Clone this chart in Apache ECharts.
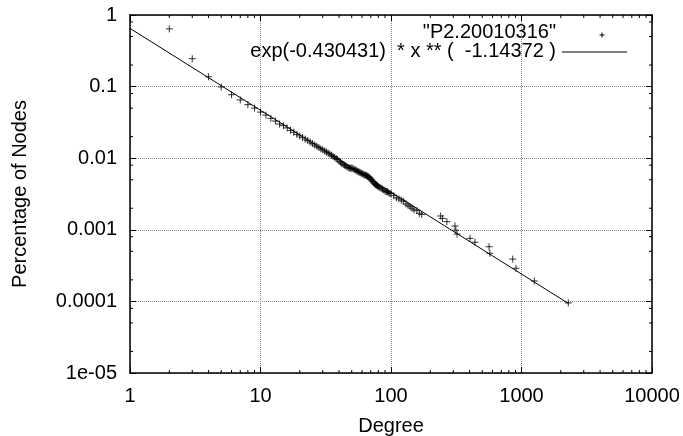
<!DOCTYPE html>
<html>
<head>
<meta charset="utf-8">
<script src="https://cdn.jsdelivr.net/npm/echarts@6/dist/echarts.min.js"></script>
<style>
html,body{margin:0;padding:0;background:#fff;}
#c{width:683px;height:436px;}
</style>
</head>
<body>
<div id="c"></div>
<script>
// ---- data ----
const degrees = [2,3,4,5,6,7,8,9,10,11,12,13,14,15,16,17,18,19,20,
  21,22,23,24,25,26,27,28,29,30,31,32,33,34,35,36,37,38,39,40,
  41,42,43,44,45,46,47,48,49,50,51,52,53,54,55,56,57,58,59,60,
  61,62,63,64,65,66,67,68,69,70,71,72,73,74,75,76,77,78,79,80,
  82,84,86,88,90,92,94,96,98,100,105,110,115,120,125,130,135,140,145,150,
  158,165,172,
  240,248,268,309,314,321,403,440,564,572,856,908,1254,2284];
const percentages = [0.64,0.245,0.137,0.099,0.077,0.065,0.056,0.050,0.044,0.040,0.036,0.033,0.030,0.0285,0.0265,0.0245,0.023,0.0215,0.0205,
  0.0195,0.0185,0.0176,0.0168,0.0160,0.0153,0.0147,0.0141,0.0135,0.0131,0.0126,0.0122,0.0118,0.0114,0.0110,0.0106,0.0103,0.0099,0.0096,0.0091,
  0.0088,0.0085,0.0082,0.0080,0.0078,0.0076,0.0074,0.0073,0.0072,0.0073,0.0072,0.0070,0.0069,0.0068,0.0066,0.0065,0.0064,0.0063,0.0062,0.0061,
  0.0060,0.0059,0.0058,0.0058,0.0057,0.0056,0.0055,0.0054,0.0053,0.0051,0.0050,0.0048,0.0047,0.0045,0.0044,0.0043,0.0042,0.0042,0.0041,0.0040,
  0.0039,0.0038,0.0037,0.0036,0.0035,0.0034,0.0034,0.0033,0.0032,0.0032,0.0030,0.0028,0.0027,0.0026,0.0025,0.0023,0.0022,0.0021,0.0020,0.0019,
  0.00185,0.0017,0.00164,
  0.00156,0.00144,0.0013,0.00113,0.00099,0.00087,0.00076,0.00067,0.00058,0.00047,0.00039,0.00029,0.000193,0.0000953];
// fitted line endpoints (as drawn)
const fitX = [1, 2284];
const fitY = [0.65, 0.0000937];

const seriesNames = ['"P2.20010316"', 'exp(-0.430431)  * x ** (  -1.14372 )'];

const xTickValues = [1, 10, 100, 1000, 10000];
const xTickLabels = ['1', '10', '100', '1000', '10000'];
const yTickValues = [0.00001, 0.0001, 0.001, 0.01, 0.1, 1];
const yTickLabels = ['1e-05', '0.0001', '0.001', '0.01', '0.1', '1'];
const xMinorTicks = [2,3,4,5,6,7,8,9,20,30,40,50,60,70,80,90,200,300,400,500,600,700,800,900,2000,3000,4000,5000,6000,7000,8000,9000];
const yMinorTicks = [0.00002,0.00005,0.00008,0.0002,0.0005,0.0008,0.002,0.005,0.008,0.02,0.05,0.08,0.2,0.5,0.8];

// ---- chart ----
const FONT = 'Liberation Sans, Arial, sans-serif';
const FS = 20;
function labelFor(values, labels){
  return function(v){
    for (let i = 0; i < values.length; i++) {
      if (Math.abs(Math.log10(v) - Math.log10(values[i])) < 1e-6) return labels[i];
    }
    return '';
  };
}
const plusPath = 'path://M0,5L10,5M5,0L5,10';

const chart = echarts.init(document.getElementById('c'), null, {renderer: 'canvas'});
const axisLineStyle = {color: '#000', width: 1.5};
const gridLine = {show: true, lineStyle: {color: '#888', type: 'dotted', width: 1}};

function minorTickRenderer(isX){
  return function(params, api){
    const cs = params.coordSys;
    const L = 3;
    const st = {stroke: '#000', lineWidth: 1};
    const p = api.coord([api.value(0), api.value(1)]);
    if (isX) {
      return {type: 'group', children: [
        {type: 'line', shape: {x1: p[0], y1: cs.y + cs.height, x2: p[0], y2: cs.y + cs.height - L}, style: st},
        {type: 'line', shape: {x1: p[0], y1: cs.y, x2: p[0], y2: cs.y + L}, style: st}
      ]};
    }
    return {type: 'group', children: [
      {type: 'line', shape: {x1: cs.x, y1: p[1], x2: cs.x + L, y2: p[1]}, style: st},
      {type: 'line', shape: {x1: cs.x + cs.width, y1: p[1], x2: cs.x + cs.width - L, y2: p[1]}, style: st}
    ]};
  };
}

const option = {
  animation: false,
  backgroundColor: '#fff',
  textStyle: {fontFamily: FONT},
  grid: {left: 130, right: 31, top: 15, bottom: 63, containLabel: false, outerBoundsMode: 'none'},
  xAxis: [{
    type: 'log', logBase: 10, min: 1, max: 10000, splitNumber: 4,
    name: 'Degree', nameLocation: 'middle', nameGap: 43,
    nameTextStyle: {color: '#000', fontSize: FS, fontFamily: FONT},
    axisLine: {show: true, lineStyle: axisLineStyle},
    axisTick: {show: true, inside: true, length: 6, lineStyle: {color: '#000', width: 1}},
    axisLabel: {color: '#000', fontSize: FS, fontFamily: FONT, margin: 13, formatter: labelFor(xTickValues, xTickLabels)},
    splitLine: gridLine, minorTick: {show: false}
  }, {
    type: 'log', logBase: 10, min: 1, max: 10000, splitNumber: 4, position: 'top',
    axisLine: {show: true, lineStyle: axisLineStyle},
    axisTick: {show: true, inside: true, length: 6, lineStyle: {color: '#000', width: 1}},
    axisLabel: {show: false}, splitLine: {show: false}
  }],
  yAxis: [{
    type: 'log', logBase: 10, min: 0.00001, max: 1, splitNumber: 5,
    name: 'Percentage of Nodes', nameLocation: 'middle', nameGap: 100,
    nameTextStyle: {color: '#000', fontSize: FS, fontFamily: FONT},
    axisLine: {show: true, lineStyle: axisLineStyle},
    axisTick: {show: true, inside: true, length: 6, lineStyle: {color: '#000', width: 1}},
    axisLabel: {color: '#000', fontSize: FS, fontFamily: FONT, margin: 13, formatter: labelFor(yTickValues, yTickLabels)},
    splitLine: gridLine
  }, {
    type: 'log', logBase: 10, min: 0.00001, max: 1, splitNumber: 5, position: 'right',
    axisLine: {show: true, lineStyle: axisLineStyle},
    axisTick: {show: true, inside: true, length: 6, lineStyle: {color: '#000', width: 1}},
    axisLabel: {show: false}, splitLine: {show: false}
  }],
  series: [
    {
      name: seriesNames[0], type: 'scatter', xAxisIndex: 0, yAxisIndex: 0,
      data: degrees.map((d, i) => [d, percentages[i]]),
      symbol: plusPath, symbolSize: 7,
      itemStyle: {color: 'rgba(0,0,0,0)', borderColor: '#000', borderWidth: 1},
      z: 5
    },
    {
      name: seriesNames[1], type: 'line', xAxisIndex: 0, yAxisIndex: 0,
      data: fitX.map((x, i) => [x, fitY[i]]),
      showSymbol: false, symbol: 'none',
      lineStyle: {color: '#000', width: 1}, z: 4
    },
    {
      type: 'custom', xAxisIndex: 0, yAxisIndex: 0, silent: true,
      data: xMinorTicks.map(v => [v, 0.001]),
      encode: {x: 0, y: 1},
      renderItem: minorTickRenderer(true), clip: false, z: 3
    },
    {
      type: 'custom', xAxisIndex: 0, yAxisIndex: 0, silent: true,
      data: yMinorTicks.map(v => [10, v]),
      encode: {x: 0, y: 1},
      renderItem: minorTickRenderer(false), clip: false, z: 3
    }
  ],
  graphic: [
    {type: 'text', right: 683 - 556, top: 22, style: {text: seriesNames[0], fill: '#000', font: FS + 'px ' + FONT, textAlign: 'right'}},
    {type: 'group', left: 597, top: 30, children: [
      {type: 'line', shape: {x1: 0, y1: 2.5, x2: 5, y2: 2.5}, style: {stroke: '#000', lineWidth: 1}},
      {type: 'line', shape: {x1: 2.5, y1: 0, x2: 2.5, y2: 5}, style: {stroke: '#000', lineWidth: 1}}
    ]},
    {type: 'text', right: 683 - 556, top: 41, style: {text: seriesNames[1], fill: '#000', font: FS + 'px ' + FONT, textAlign: 'right'}},
    {type: 'line', shape: {x1: 562, y1: 52, x2: 627, y2: 52}, style: {stroke: '#000', lineWidth: 1}}
  ]
};
chart.setOption(option);
</script>
</body>
</html>
